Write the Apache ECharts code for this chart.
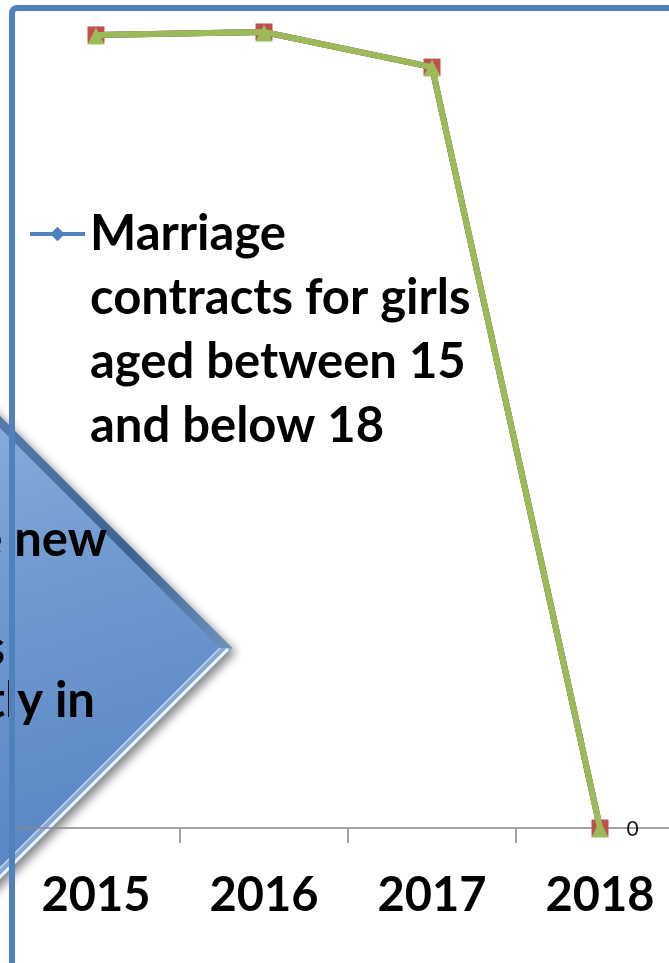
<!DOCTYPE html>
<html lang="en">
<head>
    <meta charset="UTF-8">
    <title>Marriage contracts</title>
    <script type="text/javascript" src="https://cdn.jsdelivr.net/npm/echarts@6/dist/echarts.min.js"></script>
    <style>
        html, body { margin: 0; padding: 0; background: #fff; }
        #main { width: 669px; height: 963px; }
    </style>
</head>
<body>
    <div id="main"></div>
</body>

<script type="text/javascript">
    // categories and values (y axis is hidden, scale guessed)
    var years = ['2015', '2016', '2017', '2018'];
    var contracts = [2415, 2424, 2317, 0];
    var legendLines = ['Marriage', 'contracts for girls', 'aged between 15', 'and below 18'];
    // only the right-hand ends of the callout lines are visible
    var calloutLines = ['e new', 's', 'tly in'];

    var seriesName = legendLines.join(' ');
    var font = 'Lato';

    var myChart = echarts.init(document.getElementById('main'));

    // callout diamond, cut off by the left edge
    var cx = -16, cy = 648, r = 248, inset = 12;
    var outer = [[cx + r, cy], [cx, cy - r], [cx - r, cy], [cx, cy + r]];

    var option = {
        backgroundColor: '#ffffff',
        animation: false,
        grid: {
            left: 12,
            width: 672,
            top: 7,
            bottom: 135,
            outerBoundsMode: 'none'
        },
        legend: {
            data: [seriesName],
            left: 23,
            top: 5,
            itemWidth: 55,
            itemHeight: 18,
            selectedMode: false,
            lineStyle: { width: 4, color: '#4f81bd' },
            itemStyle: { color: '#4f81bd' },
            formatter: function (name) {
                // leading blank lines keep the first line level with the icon
                return '\n\n\n' + legendLines.join('\n');
            },
            textStyle: {
                fontFamily: font,
                fontWeight: 'bold',
                fontSize: 49,
                lineHeight: 64,
                color: '#000'
            }
        },
        xAxis: {
            type: 'category',
            data: years,
            boundaryGap: true,
            axisLine: { lineStyle: { color: '#868686', width: 1.5 } },
            axisTick: { show: true, length: 15, lineStyle: { color: '#868686', width: 1.5 } },
            axisLabel: {
                margin: 44,
                fontFamily: font,
                fontWeight: 'bold',
                fontSize: 47,
                color: '#000'
            }
        },
        yAxis: {
            type: 'value',
            min: 0,
            max: 2500,
            show: false,
            splitLine: { show: false }
        },
        series: [
            {
                name: seriesName,
                type: 'line',
                data: contracts,
                symbol: 'diamond',
                symbolSize: [16, 14],
                lineStyle: { color: '#4f81bd', width: 6 },
                itemStyle: { color: '#4f81bd' },
                z: 2
            },
            {
                name: 'series2',
                type: 'line',
                data: contracts,
                symbol: 'rect',
                symbolSize: 17,
                lineStyle: { color: '#c0504d', width: 6 },
                itemStyle: { color: '#c0504d' },
                z: 3
            },
            {
                name: 'series3',
                type: 'line',
                data: contracts,
                symbol: 'triangle',
                symbolSize: 17,
                symbolOffset: [0, 1],
                lineStyle: { color: '#9bbb59', width: 6 },
                itemStyle: { color: '#9bbb59' },
                label: {
                    show: true,
                    position: 'right',
                    distance: 18,
                    fontFamily: font,
                    fontSize: 21,
                    color: '#1a1a1a',
                    formatter: function (p) {
                        return p.dataIndex === years.length - 1 ? String(p.value) : '';
                    }
                },
                z: 4
            }
        ],
        graphic: [
            {
                type: 'rect',
                silent: true,
                z: 1,
                shape: { x: 12, y: 8, width: 720, height: 1000, r: 5 },
                style: { fill: 'none', stroke: '#4f81bd', lineWidth: 6 }
            },
            {
                type: 'group',
                silent: true,
                z: 50,
                children: [
                    {
                        type: 'polygon',
                        shape: { points: outer },
                        style: {
                            fill: {
                                type: 'linear', x: 0, y: 0, x2: 0.3, y2: 1,
                                colorStops: [
                                    { offset: 0, color: 'rgba(150,186,232,0.93)' },
                                    { offset: 0.5, color: 'rgba(110,155,214,0.93)' },
                                    { offset: 1, color: 'rgba(88,135,200,0.95)' }
                                ]
                            },
                            shadowBlur: 10,
                            shadowOffsetX: 4,
                            shadowOffsetY: 4,
                            shadowColor: 'rgba(0,0,0,0.5)'
                        }
                    },
                    {
                        // darker bevel on the upper right edge
                        type: 'polygon',
                        shape: { points: [[cx, cy - r], [cx + r, cy], [cx + r - inset, cy], [cx, cy - r + inset]] },
                        style: {
                            fill: {
                                type: 'linear', x: 0, y: 0, x2: 1, y2: 1,
                                colorStops: [
                                    { offset: 0, color: '#5a7fae' },
                                    { offset: 0.6, color: '#3e618f' },
                                    { offset: 1, color: '#6f90bb' }
                                ]
                            }
                        }
                    },
                    {
                        // lighter bevel on the lower right edge
                        type: 'polygon',
                        shape: { points: [[cx + r, cy], [cx, cy + r], [cx, cy + r - inset], [cx + r - inset, cy]] },
                        style: { fill: '#86a8d6' }
                    },
                    {
                        type: 'polyline',
                        shape: { points: [[cx + r - 4, cy + 1], [cx, cy + r - 3]] },
                        style: { stroke: '#eef5fc', lineWidth: 3, fill: 'none' }
                    },
                    {
                        type: 'polyline',
                        shape: { points: [[cx + r - inset, cy], [cx, cy + r - inset]] },
                        style: { stroke: '#c5daf3', lineWidth: 1.5, fill: 'none' }
                    },
                    {
                        type: 'text',
                        style: {
                            text: calloutLines[0], x: 107, y: 565,
                            align: 'right', verticalAlign: 'bottom',
                            font: 'bold 49px ' + font, fill: '#000'
                        }
                    },
                    {
                        type: 'text',
                        style: {
                            text: calloutLines[1], x: 5, y: 674,
                            align: 'right', verticalAlign: 'bottom',
                            font: 'bold 49px ' + font, fill: '#000'
                        }
                    },
                    {
                        type: 'text',
                        style: {
                            text: calloutLines[2], x: 95, y: 726,
                            align: 'right', verticalAlign: 'bottom',
                            font: 'bold 49px ' + font, fill: '#000'
                        }
                    }
                ]
            }
        ]
    };

    myChart.setOption(option);
</script>
</html>
